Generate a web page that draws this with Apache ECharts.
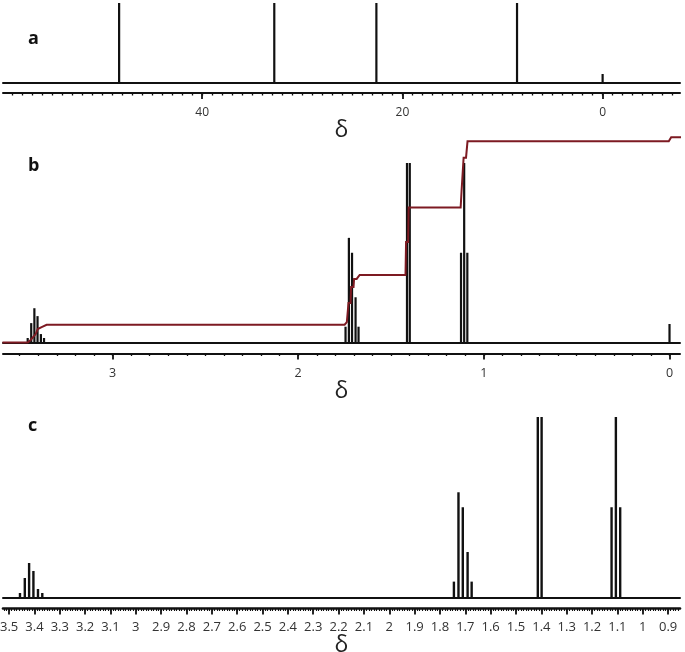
<!DOCTYPE html>
<html><head><meta charset="utf-8">
<style>html,body{margin:0;padding:0;background:#fff}#c{width:685px;height:652px}</style>
<script src="https://cdn.jsdelivr.net/npm/echarts@6/dist/echarts.min.js"></script>
</head><body><div id="c"></div>
<script>
// 13C spectrum (panel a)
const carbonShifts = [48.3, 32.8, 22.6, 8.55, 0];
const carbonHeights = [100, 100, 100, 100, 10.7];
// 1H multiplets (panels b and c)
const protonShifts = [3.457,3.438,3.421,3.404,3.386,3.369, 1.745,1.727,1.710,1.691,1.675, 1.414,1.399, 1.123,1.106,1.089];
const protonHeights = [2.5,10.8,19.1,14.7,4.7,2.5, 8.8,58.3,50,25.2,8.8, 100,100, 50,100,50];
const tmsShift = [0];
const tmsHeight = [10.3];
// integral trace (panel b): shift / level
const integralShifts = [3.593,3.457,3.441,3.414,3.403,3.382,3.355,1.750,1.738,1.731,1.729,1.718,1.715,1.702,1.699,1.685,1.669,1.422,1.419,1.408,1.405,1.125,1.120,1.112,1.109,1.096,1.088,0.004,-0.009,-0.07];
const integralLevels = [0,0,1.4,4.7,7.5,8.6,9.9,9.9,11.4,11.4,22,22,30.9,30.9,35.4,35.4,37.6,37.6,56,56,75.2,75.2,84.4,84.4,103,103,112.1,112.1,114.3,114.3];
// tick labels
const ticksA = [40,20,0];
const ticksB = [3,2,1,0];
const ticksC = [3.5,3.4,3.3,3.2,3.1,3,2.9,2.8,2.7,2.6,2.5,2.4,2.3,2.2,2.1,2,1.9,1.8,1.7,1.6,1.5,1.4,1.3,1.2,1.1,1,0.9];
function steps(from,to,step){const r=[];const n=Math.round((from-to)/step);for(let i=0;i<=n;i++)r.push(+(from-i*step).toFixed(3));return r;}
const minorA = steps(59,-7,1);
const minorB = steps(3.5,0,0.1);
const minorC = steps(3.52,0.86,0.01);

const INK='#111', FONT='"Open Sans"';
const panels = [
 {top:3, h:79.5, max:100, xmin:-7.73, xmax:59.9, major:ticksA, minor:minorA, off:10.5, lw:2, margin:13.5, gap:24, lab:'a', labTop:30, minorLen:2.5, fs:12, minW:1.3},
 {top:132.5, h:210, max:117, xmin:-0.0565, xmax:3.59, major:ticksB, minor:minorB, off:11, lw:2, margin:13, gap:21, lab:'b', labTop:156.5, minorLen:2.5, fs:12.5, minW:1.3},
 {top:417, h:180.5, max:100, xmin:0.853, xmax:3.524, major:ticksC, minor:minorC, off:11, lw:2.6, margin:12, gap:20, lab:'c', labTop:417, minorLen:2.5, fs:13, minW:1.1}
];
const grid=[],xAxis=[],yAxis=[],series=[],title=[];
panels.forEach((p,i)=>{
  grid.push({left:3,right:5,top:p.top,height:p.h,containLabel:false,outerBoundsMode:'none'});
  yAxis.push({gridIndex:i,type:'value',min:0,max:p.max,show:false});
  const base={gridIndex:i,type:'value',min:p.xmin,max:p.xmax,inverse:true,splitLine:{show:false},position:'bottom'};
  xAxis.push({...base,offset:p.off,name:'δ',nameLocation:'middle',nameGap:p.gap,
    nameTextStyle:{fontSize:23,color:'#222',fontFamily:FONT},
    axisLine:{onZero:false,lineStyle:{color:INK,width:p.lw}},
    axisTick:{length:6,customValues:p.major,lineStyle:{color:INK,width:1.8}},
    axisLabel:{customValues:p.major,margin:p.margin,fontSize:p.fs,color:'#333',fontFamily:FONT}});
  xAxis.push({...base,offset:p.off,axisLine:{onZero:false,show:false},
    axisTick:{length:p.minorLen,customValues:p.minor,lineStyle:{color:INK,width:p.minW}},
    axisLabel:{show:false}});
  xAxis.push({...base,offset:0,axisLine:{onZero:false,lineStyle:{color:INK,width:2}},axisTick:{show:false},axisLabel:{show:false}});
  title.push({text:p.lab,left:28,top:p.labTop,padding:0,textStyle:{fontSize:18,fontWeight:'bold',color:'#111',fontFamily:FONT}});
});
const zip=(a,b)=>a.map((v,i)=>[v,b[i]]);
function stems(xIdx,yIdx,data,width){
  return {type:'custom',xAxisIndex:xIdx,yAxisIndex:yIdx,silent:true,z:3,data,
    encode:{x:0,y:1},
    renderItem:(params,api)=>{
      const a=api.coord([api.value(0),0]), b=api.coord([api.value(0),api.value(1)]);
      return {type:'line',shape:{x1:a[0],y1:a[1],x2:b[0],y2:b[1]},style:{stroke:INK,lineWidth:width,fill:null}};
    }};
}
series.push(stems(0,0,zip(carbonShifts,carbonHeights),2.2));
series.push(stems(3,1,zip(protonShifts.concat(tmsShift),protonHeights.concat(tmsHeight)),2.2));
series.push({type:'line',xAxisIndex:3,yAxisIndex:1,clip:false,showSymbol:false,symbol:'none',silent:true,z:5,lineStyle:{color:'#7d1a22',width:2,join:'miter'},data:zip(integralShifts,integralLevels)});
series.push(stems(6,2,zip(protonShifts,protonHeights),2.4));
const chart=echarts.init(document.getElementById('c'),null,{renderer:'canvas'});
chart.setOption({animation:false,backgroundColor:'#fff',title,grid,xAxis,yAxis,series,tooltip:{show:false}});
</script></body></html>
